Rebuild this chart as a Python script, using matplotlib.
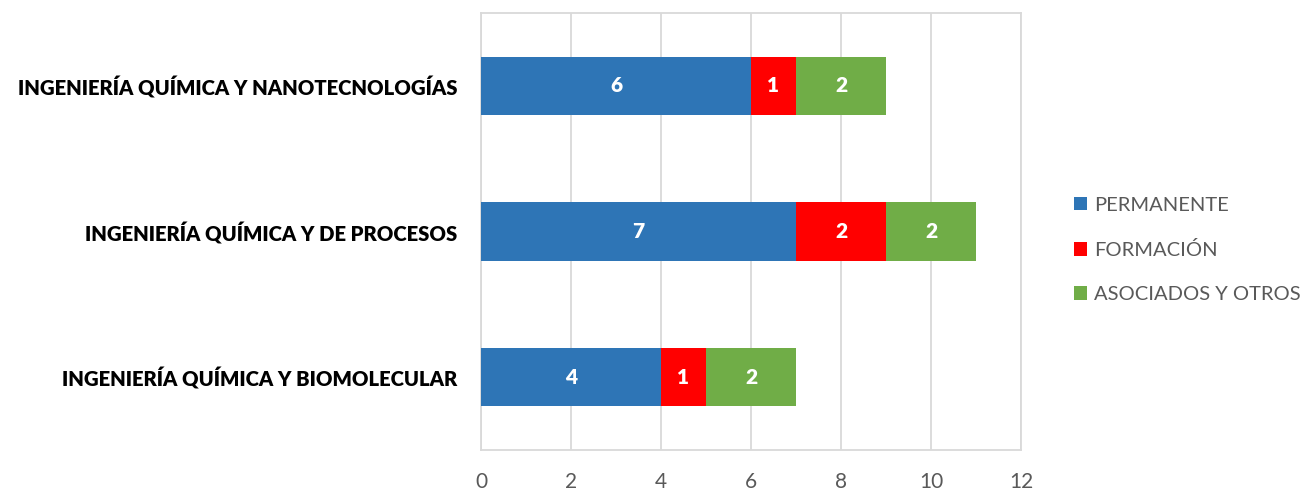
import matplotlib
matplotlib.use("Agg")
import matplotlib.pyplot as plt
import numpy as np

categories = ["INGENIERÍA QUÍMICA Y BIOMOLECULAR",
              "INGENIERÍA QUÍMICA Y DE PROCESOS",
              "INGENIERÍA QUÍMICA Y NANOTECNOLOGÍAS"]
permanente = [4, 7, 6]
formacion = [1, 2, 1]
asociados = [2, 2, 2]
series_names = ["PERMANENTE", "FORMACIÓN", "ASOCIADOS Y OTROS"]
colors = ["#2E75B6", "#FF0000", "#70AD47"]
xticks = [0, 2, 4, 6, 8, 10, 12]

plt.rcParams['font.family'] = ['Lato', 'DejaVu Sans']

fig = plt.figure(figsize=(13.05, 4.91), dpi=100)
ax = fig.add_axes([481/1305, 1-450/491, (1021-481)/1305, (450-13)/491])

y = np.arange(len(categories))
left = np.zeros(len(categories))
for vals, name, c in zip([permanente, formacion, asociados], series_names, colors):
    ax.barh(y, vals, left=left, height=0.4, color=c, label=name, zorder=3)
    for yi, v, l in zip(y, vals, left):
        ax.text(l + v/2, yi, str(v), ha='center', va='center', color='white',
                fontsize=15, fontweight='heavy', zorder=4)
    left = left + np.array(vals)

ax.set_xlim(0, 12)
ax.set_ylim(-0.5, 2.5)
ax.set_xticks(xticks)
ax.set_xticklabels([str(t) for t in xticks], color='#595959', fontsize=15)
ax.set_yticks(y)
ax.set_yticklabels(categories, fontsize=14.6, fontweight='heavy', color='black')
ax.tick_params(axis='both', length=0)
ax.tick_params(axis='x', pad=16)
ax.tick_params(axis='y', pad=17)
ax.grid(axis='x', color='#D9D9D9', linewidth=1.3, zorder=0)
for s in ax.spines.values():
    s.set_color('#D9D9D9')
    s.set_linewidth(1.3)

leg = ax.legend(loc='center left', bbox_to_anchor=(1.065, 0.458), frameon=False,
                fontsize=14.5, handlelength=0.65, handleheight=0.65, handletextpad=0.35,
                labelspacing=1.35)
for t in leg.get_texts():
    t.set_color('#595959')

fig.savefig("out.png", dpi=100)
